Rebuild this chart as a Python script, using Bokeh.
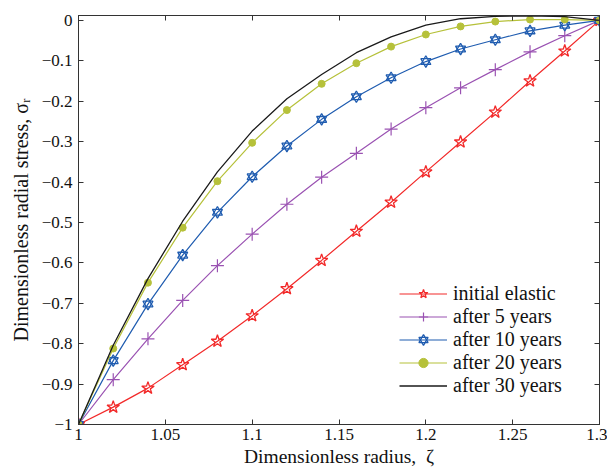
from bokeh.plotting import figure
from bokeh.models import (Range1d, LinearAxis, FixedTicker, CustomJSTickFormatter,
                          Legend, LegendItem)
from bokeh.embed import file_html
from bokeh.resources import INLINE

# ---- data ----
zeta = [1.00, 1.02, 1.04, 1.06, 1.08, 1.10, 1.12, 1.14, 1.16, 1.18, 1.20, 1.22, 1.24, 1.26, 1.28, 1.30]
initial_elastic = [-1.0, -0.957, -0.910, -0.852, -0.794, -0.731, -0.664, -0.594, -0.522, -0.450,
                   -0.375, -0.301, -0.227, -0.150, -0.076, 0.0]
after_5 = [-1.0, -0.889, -0.788, -0.693, -0.607, -0.529, -0.455, -0.388, -0.329, -0.269,
           -0.216, -0.167, -0.122, -0.078, -0.038, 0.0]
after_10 = [-1.0, -0.842, -0.702, -0.581, -0.475, -0.387, -0.311, -0.245, -0.189, -0.142,
            -0.102, -0.071, -0.048, -0.026, -0.012, 0.0]
after_20 = [-1.0, -0.812, -0.649, -0.513, -0.398, -0.303, -0.222, -0.157, -0.106, -0.065,
            -0.035, -0.015, -0.003, 0.002, 0.002, 0.0]
after_30 = [-1.0, -0.804, -0.639, -0.497, -0.375, -0.274, -0.194, -0.134, -0.080, -0.041,
            -0.012, 0.004, 0.010, 0.011, 0.009, 0.0]

x_ticks = [1.0, 1.05, 1.1, 1.15, 1.2, 1.25, 1.3]
y_ticks = [0.0, -0.1, -0.2, -0.3, -0.4, -0.5, -0.6, -0.7, -0.8, -0.9, -1.0]

labels = ["initial elastic", "after 5 years", "after 10 years", "after 20 years", "after 30 years"]
x_title = "Dimensionless radius,\u00a0\u00a0ζ"
y_title = "Dimensionless radial stress, σᵣ"

FONT = "Liberation Serif"
RED = "#f22a2a"
PURPLE = "#9a52b2"
BLUE = "#1f5cb0"
OLIVE = "#b6c13a"
BLACK = "#1a1a1a"

p = figure(width=607, height=472, output_backend="svg", toolbar_location=None,
           x_range=Range1d(1.0, 1.3), y_range=Range1d(-1.0, 0.012),
           min_border_left=78, min_border_right=8, min_border_top=15, min_border_bottom=48,
           x_axis_label=x_title, y_axis_label=y_title)
p.xgrid.visible = False
p.ygrid.visible = False
p.outline_line_color = "#333333"
p.outline_line_width = 1
p.background_fill_color = "white"
p.border_fill_color = "white"

xfmt = CustomJSTickFormatter(code="return String(Math.round(tick*100)/100);")
yfmt = CustomJSTickFormatter(code="""
const v = Math.round(tick*10)/10;
if (v == 0) return "0";
return (v < 0 ? "\\u2212" : "") + String(Math.abs(v));
""")

for ax, tk, fm in ((p.xaxis[0], x_ticks, xfmt), (p.yaxis[0], y_ticks, yfmt)):
    ax.ticker = FixedTicker(ticks=tk)
    ax.formatter = fm
    ax.major_tick_in = 5
    ax.major_tick_out = 0
    ax.minor_tick_in = 0
    ax.minor_tick_out = 0
    ax.axis_line_color = "#333333"
    ax.major_tick_line_color = "#333333"
    ax.major_label_text_font = FONT
    ax.major_label_text_font_size = "17px"
    ax.major_label_text_color = "#111111"
    ax.axis_label_text_font = FONT
    ax.axis_label_text_font_style = "normal"
    ax.axis_label_text_color = "#111111"
p.xaxis.axis_label_text_font_size = "19.5px"
p.yaxis.axis_label_text_font_size = "20px"
p.xaxis.major_label_standoff = 4
p.xaxis.axis_label_standoff = 3
p.yaxis.major_label_standoff = 6
p.yaxis.axis_label_standoff = 7

blank = CustomJSTickFormatter(code="return '';")
for loc, tk in (("above", x_ticks), ("right", y_ticks)):
    ax = LinearAxis(ticker=FixedTicker(ticks=tk), formatter=blank,
                    major_label_standoff=0, major_tick_in=5, major_tick_out=0,
                    minor_tick_in=0, minor_tick_out=0, axis_line_color="#333333",
                    major_tick_line_color="#333333")
    p.add_layout(ax, loc)

# series
l0 = p.line(zeta, initial_elastic, line_color=RED, line_width=1.2)
m0 = p.scatter(zeta, initial_elastic, marker="star", size=13, line_color=RED,
               fill_color=None, line_width=1.3)
l1 = p.line(zeta, after_5, line_color=PURPLE, line_width=1.2)
m1 = p.scatter(zeta, after_5, marker="cross", size=13, line_color=PURPLE, line_width=1.2)
l2 = p.line(zeta, after_10, line_color=BLUE, line_width=1.2)
m2a = p.scatter(zeta, after_10, marker="triangle", size=10, line_color=BLUE,
                fill_color=None, line_width=1.3)
m2b = p.scatter(zeta, after_10, marker="inverted_triangle", size=10, line_color=BLUE,
                fill_color=None, line_width=1.3)
l3 = p.line(zeta, after_20, line_color=OLIVE, line_width=1.2)
m3 = p.scatter(zeta, after_20, marker="circle", size=7, line_color=OLIVE, fill_color=OLIVE)
l4 = p.line(zeta, after_30, line_color=BLACK, line_width=1.3)

legend = Legend(items=[
    LegendItem(label=labels[0], renderers=[l0, m0]),
    LegendItem(label=labels[1], renderers=[l1, m1]),
    LegendItem(label=labels[2], renderers=[l2, m2a, m2b]),
    LegendItem(label=labels[3], renderers=[l3, m3]),
    LegendItem(label=labels[4], renderers=[l4]),
], location=(321, 27))
legend.border_line_color = None
legend.background_fill_alpha = 0
legend.padding = 0
legend.margin = 0
legend.spacing = 0
legend.glyph_width = 48
legend.glyph_height = 23
legend.label_height = 23
legend.label_standoff = 6
legend.label_text_font = FONT
legend.label_text_font_size = "20px"
legend.label_text_color = "#111111"
p.add_layout(legend, "center")

open("out.html", "w").write(file_html(p, INLINE))
